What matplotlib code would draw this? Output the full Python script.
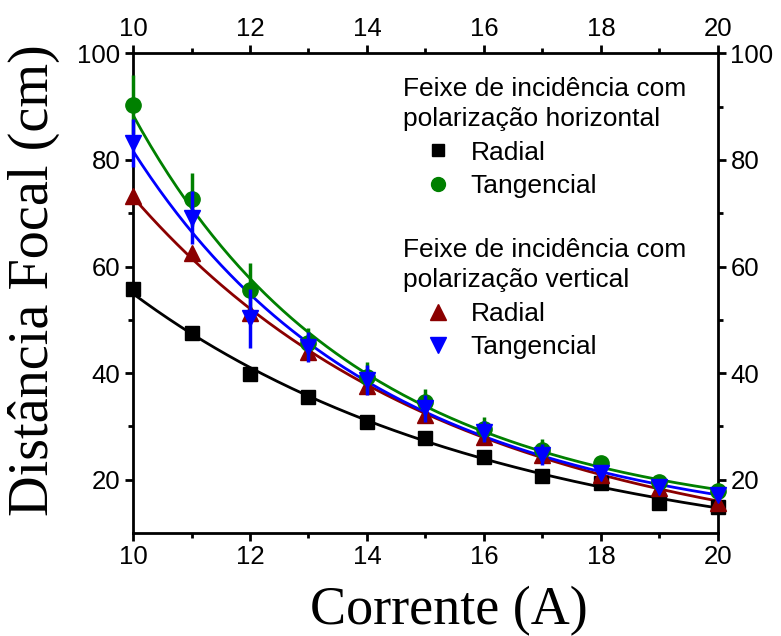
import numpy as np
import matplotlib.pyplot as plt
from matplotlib.lines import Line2D

# dados
corrente = [10, 11, 12, 13, 14, 15, 16, 17, 18, 19, 20]

h_radial = [55.8, 47.5, 39.8, 35.5, 30.9, 27.8, 24.3, 20.7, 19.4, 15.7, 14.9]
h_tang = [90.4, 72.6, 55.6, 45.6, 39.2, 34.6, 29.5, 25.6, 23.2, 19.6, 17.8]
h_tang_err = [5.5, 5.0, 5.0, 2.8, 2.8, 2.5, 2.3, 2.0, 0.5, 1.0, 1.0]

v_radial = [73.3, 62.6, 51.2, 43.9, 37.6, 32.1, 28.0, 24.7, 20.9, 18.5, 15.7]
v_radial_err = [0.8, 0.8, 0.8, 0.8, 0.8, 0.8, 0.8, 0.8, 0.8, 0.8, 0.8]
v_tang = [83.2, 69.2, 50.3, 44.9, 38.7, 33.4, 29.0, 24.7, 21.3, 18.7, 17.2]
v_tang_err = [4.5, 5.0, 5.5, 2.8, 2.8, 2.5, 2.0, 2.0, 1.0, 1.0, 1.0]

x = np.array(corrente)
xf = np.linspace(10, 20, 200)

def ajuste(y):
    p = np.polyfit(x, np.log(y), 2)
    return np.exp(np.polyval(p, xf))

fig = plt.figure(figsize=(7.81, 6.36), dpi=100)
ax = fig.add_axes([0.1703, 0.162, 0.749, 0.754])

ax.plot(xf, ajuste(h_radial), color='black', lw=2)
ax.plot(xf, ajuste(v_radial), color='#8b0000', lw=2)
ax.plot(xf, ajuste(v_tang), color='blue', lw=2)
ax.plot(xf, ajuste(h_tang), color='green', lw=2)

ax.plot(x, h_radial, 's', color='black', ms=10, clip_on=False, zorder=5)
ax.errorbar(x, v_radial, yerr=v_radial_err, fmt='^', color='#8b0000', ms=12,
            elinewidth=2.5, capsize=0, clip_on=False, zorder=5)
ax.errorbar(x, h_tang, yerr=h_tang_err, fmt='o', color='green', ms=11,
            elinewidth=2.5, capsize=0, clip_on=False, zorder=6)
ax.errorbar(x, v_tang, yerr=v_tang_err, fmt='v', color='blue', ms=12,
            elinewidth=2.5, capsize=0, clip_on=False, zorder=7)

ax.set_xlim(10, 20)
ax.set_ylim(10, 100)
ax.set_xticks([10, 12, 14, 16, 18, 20])
ax.set_xticks([11, 13, 15, 17, 19], minor=True)
ax.set_yticks([20, 40, 60, 80, 100])
ax.set_yticks([30, 50, 70, 90], minor=True)
for s in ax.spines.values():
    s.set_linewidth(2)
ax.tick_params(which='both', direction='out', top=True, right=True,
               labeltop=True, labelright=True, width=2)
ax.tick_params(which='major', length=6, labelsize=18.5, pad=3)
ax.tick_params(which='minor', length=3.5)
for lab in ax.get_xticklabels() + ax.get_yticklabels():
    lab.set_fontfamily('Liberation Sans')

ax.set_xlabel('Corrente (A)', fontsize=39, family='Liberation Serif')
ax.set_ylabel('Distância Focal (cm)', fontsize=40.5, family='Liberation Serif')
ax.xaxis.set_label_coords(0.54, -0.11)
ax.yaxis.set_label_coords(-0.124, 0.527)

fonte = {'family': 'Liberation Sans', 'size': 19}
h1 = [Line2D([], [], ls='none', marker='s', color='black', ms=9),
      Line2D([], [], ls='none', marker='o', color='green', ms=10)]
leg1 = ax.legend(h1, ['Radial', 'Tangencial'], loc='upper left',
                 bbox_to_anchor=(0.462, 0.951), frameon=False, prop=fonte,
                 title='Feixe de incidência com\npolarização horizontal',
                 title_fontproperties=fonte, alignment='left',
                 handlelength=2.6, handletextpad=-0.05, labelspacing=0.36,
                 borderpad=0, borderaxespad=0)
leg1.get_title().set_linespacing(1.33)
ax.add_artist(leg1)

h2 = [Line2D([], [], ls='none', marker='^', color='#8b0000', ms=11),
      Line2D([], [], ls='none', marker='v', color='blue', ms=11)]
leg2 = ax.legend(h2, ['Radial', 'Tangencial'], loc='upper left',
                 bbox_to_anchor=(0.462, 0.615), frameon=False, prop=fonte,
                 title='Feixe de incidência com\npolarização vertical',
                 title_fontproperties=fonte, alignment='left',
                 handlelength=2.6, handletextpad=-0.05, labelspacing=0.36,
                 borderpad=0, borderaxespad=0)
leg2.get_title().set_linespacing(1.33)

fig.savefig('out.png', dpi=100)
